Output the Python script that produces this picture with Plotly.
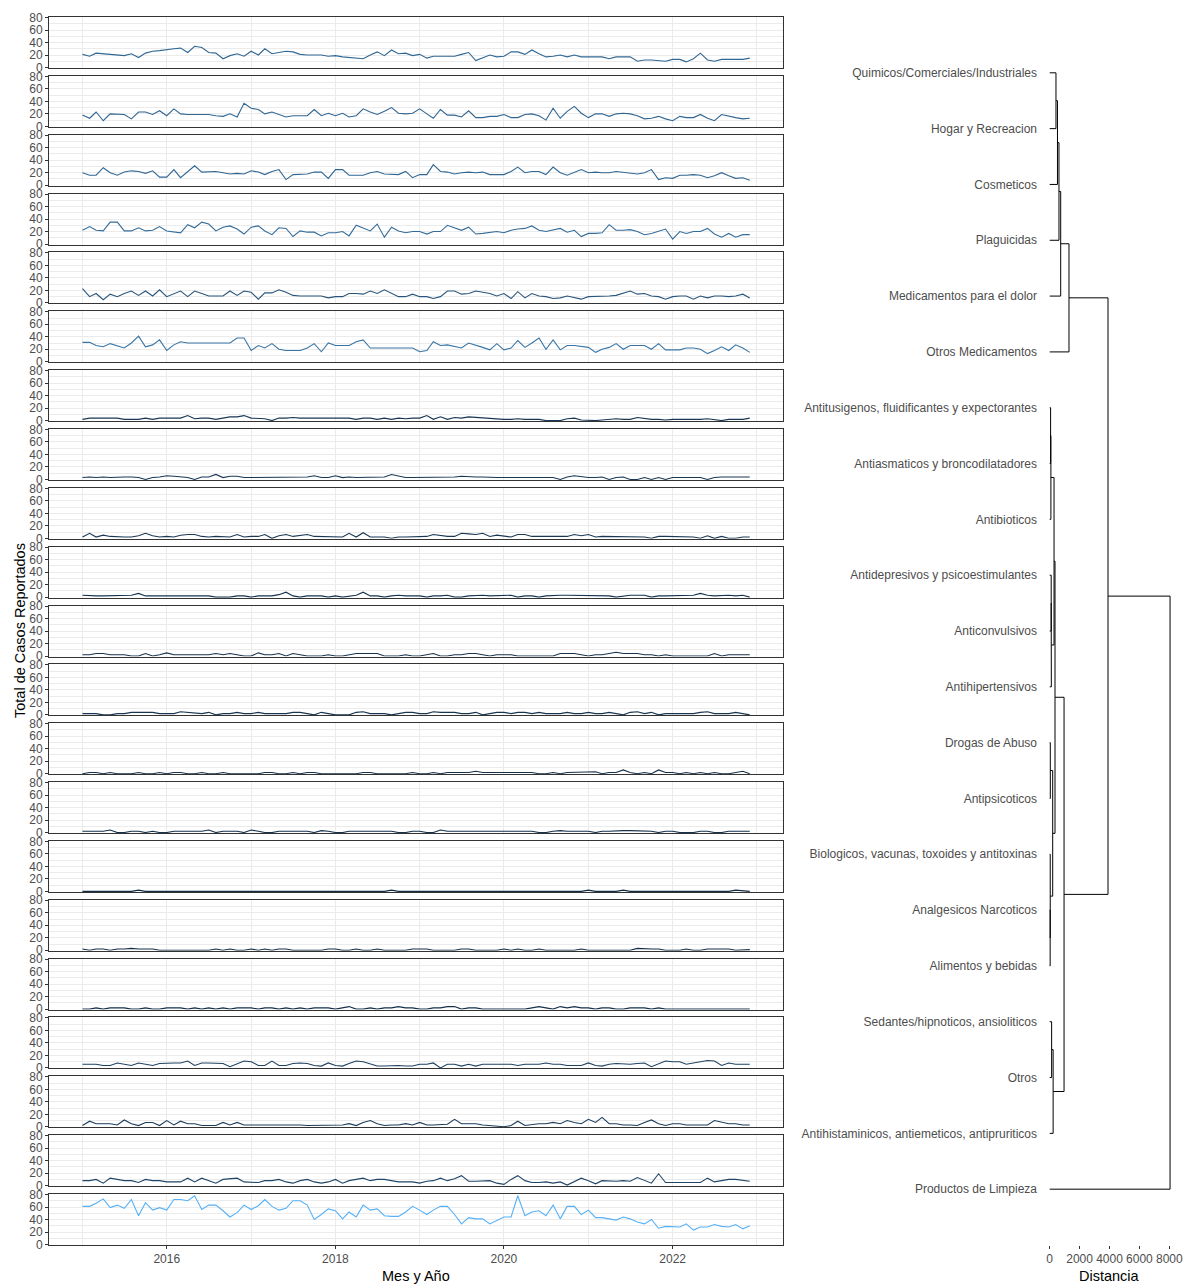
import plotly.graph_objects as go
import pandas as pd

# ---------------- data ----------------
MONTHS = pd.date_range("2015-01-01", "2022-12-01", freq="MS").strftime("%Y-%m-%d").tolist()

CATEGORIES = [
    "Quimicos/Comerciales/Industriales",
    "Hogar y Recreacion",
    "Cosmeticos",
    "Plaguicidas",
    "Medicamentos para el dolor",
    "Otros Medicamentos",
    "Antitusigenos, fluidificantes y expectorantes",
    "Antiasmaticos y broncodilatadores",
    "Antibioticos",
    "Antidepresivos y psicoestimulantes",
    "Anticonvulsivos",
    "Antihipertensivos",
    "Drogas de Abuso",
    "Antipsicoticos",
    "Biologicos, vacunas, toxoides y antitoxinas",
    "Analgesicos Narcoticos",
    "Alimentos y bebidas",
    "Sedantes/hipnoticos, ansioliticos",
    "Otros",
    "Antihistaminicos, antiemeticos, antipruriticos",
    "Productos de Limpieza",
]

S01 = [21,18,23,22,22,20,19,22,16,23, 26,27,29,30,31,24,34,32,24,23, 14,19,22,18,26,20,30,22,24,26,
       25,21,20,20,20,18,19,17,16,16, 14,20,25,19,28,22,
       23,19,21,15,18,18,18,18,21,24, 11,16,20,17,18,25,25,21,28,22, 17,18,20,17,20,17,17,17,17,14,
       17,17,17,10,12,12,11,10,13,13, 9,14,23,12,10,13,13,13,13,15]
S02 = [18,13,23,9,20,20,19,12,23,23, 19,25,17,28,20,19,19,19,19,17, 16,20,15,37,29,27,20,23,19,15,
       17,17,17,27,17,21,17,21,15,17, 28,23,19,24,30,21,
       20,21,28,20,13,27,18,18,15,25, 14,14,16,16,19,14,14,19,20,17, 10,29,13,24,32,21,14,20,20,16,
       20,21,20,17,12,13,16,12,9,16, 14,14,19,13,9,19,16,14,12,13]
S03 = [20,16,16,28,20,16,21,23,22,19, 23,13,13,25,12,22,31,21,21,22, 20,18,19,18,23,21,17,22,25,9,
       17,17,18,21,21,11,25,25,16,16, 16,20,22,18,17,17,
       22,12,17,17,33,22,21,18,20,21, 20,21,17,17,17,22,29,20,22,22, 17,29,20,16,20,25,20,21,20,20,
       22,21,20,18,20,25,9,12,11,16, 16,17,16,12,15,20,15,11,12,8]
S04 = [22,28,22,21,35,35,21,21,26,21, 22,28,21,20,18,31,26,35,32,21, 27,29,24,16,27,29,21,15,26,25,
       12,21,19,19,13,18,18,20,13,30, 26,21,32,11,27,21,
       18,20,20,16,20,20,30,26,22,27, 16,17,19,20,18,22,24,25,29,22, 20,22,25,19,22,12,17,17,18,31,
       22,22,23,20,15,17,20,24,8,20, 17,20,20,25,16,11,17,11,15,15]
S05 = [23,10,15,5,14,10,15,19,12,19, 11,21,10,14,19,10,19,15,11,11, 11,19,12,19,17,6,16,16,21,17,
       12,11,11,11,11,8,10,10,15,15, 14,19,15,21,15,10,10,14,10,10, 7,10,19,19,14,15,19,17,15,11,
       15,7,18,8,15,11,10,7,8,11, 8,6,10,10,11,11,12,15,19,14, 15,11,10,6,10,11,11,6,11,8,
       11,11,10,11,14,8]
S06 = [31,31,26,24,29,26,22,30,41,24, 27,35,18,27,32,30,30,30,30,30, 30,30,38,38,18,26,22,29,20,18,
       18,18,22,29,16,30,26,26,26,32, 35,22,22,23,23,23,23,22,16,18, 32,26,27,24,22,30,27,23,19,29,
       19,22,34,23,30,38,20,35,19,26, 26,24,23,15,20,23,29,20,26,26, 26,20,29,19,19,19,22,22,20,13,
       18,24,18,27,22,15]
S07 = [2,4,4,4,5,4,2,2,2,4, 2,4,4,5,4,8,3,4,4,2, 4,6,6,8,4,4,3,0,4,4, 5,4,4,4,4,4,4,4,4,2,
       4,4,2,4,2,4,3,4,4,8, 2,6,2,5,4,6,5,5,4,2, 2,2,3,2,2,2,0,0,0,3, 4,1,0,0,1,2,3,2,2,5,
       3,2,2,1,2,2,1,2,2,3, 2,0,2,2,2,4]
S08 = [3,4,3,4,3,4,4,4,3,0, 3,4,6,5,4,3,0,4,4,8, 3,5,5,3,3,3,3,3,3,3, 3,3,4,6,3,3,6,3,4,3,
       3,3,3,4,8,6,3,3,3,3, 3,3,3,4,5,4,4,4,3,3, 3,3,4,3,3,4,3,3,0,4, 6,4,3,3,4,0,3,4,0,0,
       3,0,3,0,3,3,3,3,3,0, 3,4,4,3,3,4]
S09 = [2,8,2,5,3,2,2,2,4,8, 4,2,3,2,5,6,6,3,2,3, 3,2,6,2,3,3,6,0,4,6, 3,4,6,3,3,3,3,2,8,2,
       9,2,2,2,0,2,2,2,2,3, 6,4,3,3,8,7,6,8,3,5, 3,2,6,6,3,3,3,2,3,3, 6,4,6,2,3,3,3,2,2,2,
       2,0,3,3,3,2,3,2,0,4, 0,3,0,0,2,2]
S10 = [3,2,2,2,2,2,3,3,6,2, 2,2,2,2,2,3,3,2,2,0, 0,0,2,2,0,2,2,2,4,8, 2,0,2,2,2,0,2,0,2,3,
       8,2,2,0,2,3,2,2,2,0, 2,2,3,0,0,2,3,3,2,2, 2,3,0,2,2,0,2,3,3,3, 3,3,3,3,3,2,0,2,3,3,
       3,0,2,2,2,2,2,3,6,3, 2,3,3,2,3,0]
S11 = [2,2,4,4,2,2,2,0,0,4, 0,2,5,2,2,2,2,2,2,4, 2,4,2,0,0,5,2,2,4,0, 4,2,0,0,0,2,0,0,2,4,
       4,4,4,0,0,0,2,0,0,2, 4,0,0,2,2,4,4,2,0,2, 2,2,0,0,0,0,0,0,4,4, 4,2,0,2,2,4,6,4,4,4,
       2,2,0,2,0,0,0,0,0,0, 4,0,2,2,2,2]
S12 = [2,2,2,0,0,2,2,4,4,4, 4,2,2,2,5,4,2,2,4,0, 2,2,4,2,2,4,2,2,2,2, 4,4,2,0,4,2,0,0,0,4,
       5,2,2,2,0,2,4,4,2,2, 5,4,4,4,2,2,4,0,2,4, 4,2,4,4,2,4,2,2,2,4, 2,2,4,2,2,4,2,0,4,5,
       2,4,0,2,2,2,2,2,4,5, 2,2,2,4,2,0]
S13 = [0,2,2,0,2,0,0,0,2,0, 0,2,0,2,2,0,0,2,0,0, 2,0,0,0,0,0,2,2,0,0, 2,0,2,2,0,0,0,0,0,0,
       2,2,0,0,0,0,0,2,0,0, 2,0,2,2,2,2,4,2,2,2, 2,2,2,2,2,0,0,2,0,2, 2,3,3,3,0,2,2,6,2,0,
       2,0,6,2,2,0,2,0,2,0, 2,0,0,2,4,0]
S14 = [2,2,2,2,4,0,0,2,2,0, 2,0,0,2,2,2,2,2,4,0, 2,2,2,0,4,2,0,0,2,2, 2,2,2,0,3,2,0,0,2,2,
       2,2,2,2,2,0,0,2,2,0, 0,4,2,2,2,2,2,2,2,2, 2,2,2,2,2,0,0,2,3,2, 2,3,2,0,2,2,3,3,3,3,
       2,2,0,2,2,0,0,0,2,2, 0,0,2,2,2,2]
S15 = [0,0,0,0,0,0,0,0,2,0, 0,0,0,0,0,0,0,0,0,0, 0,0,0,0,0,0,0,0,0,0, 0,0,0,0,0,0,0,0,0,0,
       0,0,0,0,2,0,0,0,0,0, 0,0,0,0,0,0,0,0,0,0, 0,0,0,0,0,0,0,0,0,0, 0,0,2,0,0,0,0,2,0,0,
       0,0,0,0,0,0,0,0,0,0, 0,0,0,2,1,0]
S16 = [2,0,2,2,0,2,2,3,2,2, 2,0,0,0,0,0,0,0,0,2, 0,2,0,0,2,0,2,0,2,2, 0,0,0,0,0,2,2,0,0,2,
       0,0,2,0,0,0,0,2,2,2, 0,0,0,0,2,2,0,0,0,0, 2,0,2,0,0,2,0,0,0,0, 0,2,0,0,0,0,0,0,0,3,
       2,2,2,0,0,0,2,0,0,2, 2,2,2,0,0,1]
S17 = [0,0,2,0,2,2,2,0,0,2, 0,0,2,2,2,0,2,0,2,0, 2,0,2,2,2,0,2,2,0,2, 0,2,0,2,2,2,0,2,4,0,
       0,2,0,2,2,4,2,2,0,0, 2,2,4,4,0,2,2,0,0,0, 0,0,0,0,2,4,2,0,4,2, 4,2,2,0,2,2,0,0,2,2,
       2,0,2,0,0,0,0,0,0,0, 0,0,0,0,0,0]
S18 = [6,6,6,4,4,8,6,4,8,6, 4,7,8,8,8,11,4,8,8,8, 7,2,7,11,10,4,4,11,4,4, 7,8,7,4,3,8,4,3,7,11,
       10,7,3,3,4,4,3,3,6,6, 8,0,6,6,3,6,3,6,6,6, 6,6,4,6,6,6,8,6,6,4, 4,4,8,4,3,6,7,6,6,7,
       8,2,7,11,10,10,6,8,11,12, 11,4,8,6,6,6]
S19 = [2,9,5,5,5,3,11,5,2,7, 7,2,10,3,9,5,5,2,2,2, 7,3,7,3,3,3,4,4,3,3, 4,3,2,2,3,3,3,3,5,2,
       7,10,5,2,3,3,5,3,7,3, 3,3,4,12,5,5,5,3,2,0, 0,2,9,2,4,5,5,7,5,10, 7,5,12,7,15,5,5,3,3,2,
       7,11,5,2,5,5,3,3,3,3, 10,7,5,5,3,3]
S20 = [8,8,10,4,12,10,8,8,5,10, 8,8,6,6,6,12,6,12,8,4, 10,11,12,6,5,5,8,8,10,6, 4,8,10,6,4,6,10,4,8,10,
       12,8,10,10,8,6,6,6,4,7, 8,12,8,11,16,7,7,8,8,4, 2,10,16,8,5,5,6,4,6,1, 7,12,8,3,8,7,7,8,7,13,
       8,4,19,5,5,5,5,5,5,12, 6,8,10,10,8,7]
S21 = [61,61,66,73,59,63,58,72,46,67, 55,59,55,72,72,70,78,56,63,63, 54,44,51,63,56,62,72,61,55,58,
       70,70,63,40,48,57,54,41,52,44, 63,55,57,46,45,45,
       52,61,55,48,55,61,61,48,33,43, 41,41,33,39,44,44,78,46,52,54, 46,63,41,61,61,48,55,43,43,41,
       39,44,41,36,33,40,26,29,29,28, 33,23,28,28,32,29,28,32,25,30]

SERIES = [S01, S02, S03, S04, S05, S06, S07, S08, S09, S10, S11,
          S12, S13, S14, S15, S16, S17, S18, S19, S20, S21]

# hierarchical clustering merges (R style: negative = leaf number, positive = earlier merge)
MERGE = [(-1, -2), (1, -3), (2, -4), (3, -5), (4, -6),
         (-7, -8), (6, -9), (-10, -11), (8, -12), (7, 9),
         (-16, -17), (-15, 11), (-13, -14), (13, 12), (10, 14),
         (-18, -19), (16, -20), (15, 17), (5, 18), (19, -21)]
HEIGHTS = [420, 520, 620, 735, 1290,
           60, 80, 100, 110, 290,
           30, 35, 40, 200, 355,
           130, 230, 960, 3900, 8050]

Y_TICKS = [0, 20, 40, 60, 80]
Y_MINOR = [10, 30, 50, 70]
X_TICKS = ["2016-01-01", "2018-01-01", "2020-01-01", "2022-01-01"]
X_TICKTEXT = ["2016", "2018", "2020", "2022"]
X_MINOR = ["2015-01-01", "2017-01-01", "2019-01-01", "2021-01-01", "2023-01-01"]
DIST_TICKS = [0, 2000, 4000, 6000, 8000]

# ---------------- figure ----------------
W, H = 1184, 1285
FONT = "Liberation Sans, Arial, sans-serif"
GRID = "#EBEBEB"
TXT = "#4D4D4D"
BORDER = "#333333"
TICK_SIZE = 12
TITLE_SIZE = 14.5


def hexmix(c1, c2, t):
    a = [int(c1[i:i + 2], 16) for i in (1, 3, 5)]
    b = [int(c2[i:i + 2], 16) for i in (1, 3, 5)]
    return "#" + "".join("%02x" % round(a[k] + (b[k] - a[k]) * t) for k in range(3))


means = [sum(s) / len(s) for s in SERIES]
lo, hi = min(means), max(means)
colors = [hexmix("#132B43", "#56B1F7", ((m - lo) / (hi - lo)) ** 0.85) for m in means]

fig = go.Figure()
layout = dict(
    width=W, height=H, margin=dict(l=0, r=0, t=0, b=0),
    paper_bgcolor="white", plot_bgcolor="white", showlegend=False,
    font=dict(family=FONT, size=TICK_SIZE, color=TXT),
)

n = len(SERIES)
for i, s in enumerate(SERIES):
    k = i + 1
    top = 17 + i * 58.85
    bot = top + 51
    xa = "xaxis" if k == 1 else f"xaxis{k}"
    ya = "yaxis" if k == 1 else f"yaxis{k}"
    last = (i == n - 1)
    layout[xa] = dict(
        domain=[49 / W, 783 / W], anchor=f"y{k}" if k > 1 else "y",
        type="date", range=["2014-08-09", "2023-04-24"],
        tickmode="array", tickvals=X_TICKS, ticktext=X_TICKTEXT,
        showticklabels=last, ticks="outside" if last else "", ticklen=3, tickcolor=BORDER,
        tickfont=dict(size=TICK_SIZE, color=TXT),
        showgrid=True, gridcolor=GRID, gridwidth=1,
        minor=dict(tickmode="array", tickvals=X_MINOR, showgrid=True, gridcolor=GRID, gridwidth=0.6),
        showline=True, mirror=True, linecolor=BORDER, linewidth=1,
        zeroline=False, automargin=False,
    )
    layout[ya] = dict(
        domain=[1 - bot / H, 1 - top / H], anchor=f"x{k}" if k > 1 else "x",
        range=[-0.8, 80.8], tickmode="array", tickvals=Y_TICKS,
        ticks="outside", ticklen=3, tickcolor=BORDER,
        tickfont=dict(size=TICK_SIZE, color=TXT),
        showgrid=True, gridcolor=GRID, gridwidth=1,
        minor=dict(tickmode="array", tickvals=Y_MINOR, showgrid=True, gridcolor=GRID, gridwidth=0.6),
        showline=True, mirror=True, linecolor=BORDER, linewidth=1,
        zeroline=False, automargin=False,
    )
    fig.add_trace(go.Scatter(
        x=MONTHS, y=s, mode="lines", name=CATEGORIES[i],
        line=dict(color=colors[i], width=1.1),
        xaxis=f"x{k}" if k > 1 else "x", yaxis=f"y{k}" if k > 1 else "y",
    ))

# dendrogram segments from merge table
node_y, node_h = {}, {}


def pos(c):
    if c < 0:
        return float(-c - 1), 0.0
    return node_y[c], node_h[c]


dx, dy = [], []
for k, ((a, b), h) in enumerate(zip(MERGE, HEIGHTS), start=1):
    ya_, ha = pos(a)
    yb_, hb = pos(b)
    dx += [ha, h, h, hb, None]
    dy += [ya_, ya_, yb_, yb_, None]
    node_y[k] = (ya_ + yb_) / 2
    node_h[k] = h

kd = n + 1
fig.add_trace(go.Scatter(
    x=dx, y=dy, mode="lines", line=dict(color="black", width=1),
    xaxis=f"x{kd}", yaxis=f"y{kd}", hoverinfo="skip",
))
x0px, x1px = 1038, 1184
scale = 8000 / (1169.3 - 1049.7)
layout[f"xaxis{kd}"] = dict(
    domain=[x0px / W, x1px / W], anchor=f"y{kd}",
    range=[(x0px - 1049.7) * scale, (x1px - 1049.7) * scale],
    tickmode="array", tickvals=DIST_TICKS, ticks="outside", ticklen=3, tickcolor=BORDER,
    tickfont=dict(size=TICK_SIZE, color=TXT),
    showgrid=False, zeroline=False, showline=False, automargin=False,
)
layout[f"yaxis{kd}"] = dict(
    domain=[1 - 1245 / H, 1 - 17 / H], anchor=f"x{kd}",
    range=[21, -1], tickmode="array", tickvals=list(range(n)), ticktext=CATEGORIES,
    ticks="", tickfont=dict(size=TICK_SIZE, color=TXT),
    showgrid=False, zeroline=False, showline=False, automargin=False,
)

layout["annotations"] = [
    dict(text="Mes y Año", x=416 / W, y=1 - 1276 / H, xref="paper", yref="paper",
         showarrow=False, font=dict(size=TITLE_SIZE, color="black"), xanchor="center", yanchor="middle"),
    dict(text="Total de Casos Reportados", x=20 / W, y=1 - 631 / H, xref="paper", yref="paper",
         showarrow=False, textangle=-90, font=dict(size=TITLE_SIZE, color="black"),
         xanchor="center", yanchor="middle"),
    dict(text="Distancia", x=1109 / W, y=1 - 1276 / H, xref="paper", yref="paper",
         showarrow=False, font=dict(size=TITLE_SIZE, color="black"), xanchor="center", yanchor="middle"),
]

fig.update_layout(**layout)
fig.write_html("out.html")
